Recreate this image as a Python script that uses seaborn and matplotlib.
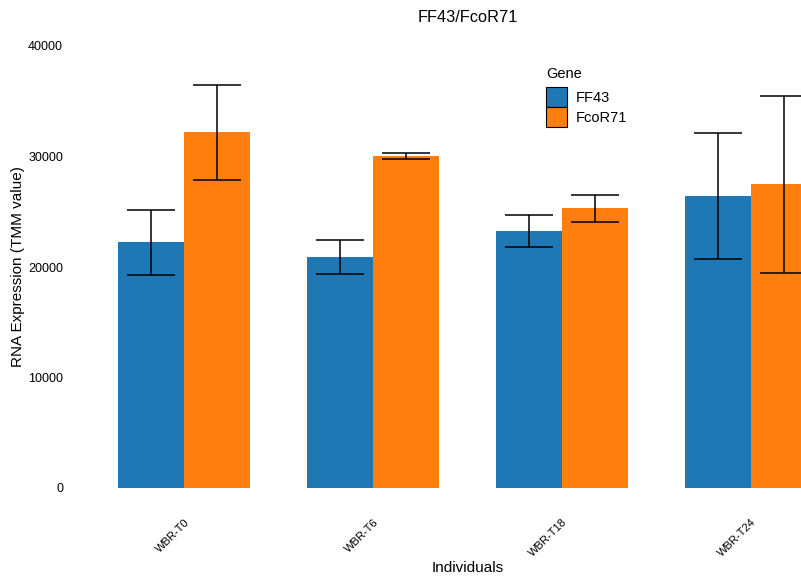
import matplotlib
matplotlib.use("Agg")
import matplotlib.pyplot as plt
from matplotlib.patches import Patch
import seaborn as sns
import pandas as pd

# Mean expression (TMM) and error per individual and gene
individuals = ["WBR-T0", "WBR-T6", "WBR-T18", "WBR-T24"]
genes = ["FF43", "FcoR71"]
ff43_mean = [22250, 20900, 23250, 26400]
ff43_err = [2950, 1550, 1450, 5700]
fcor71_mean = [32200, 30050, 25300, 27500]
fcor71_err = [4300, 250, 1250, 8000]
palette = ["#1f77b4", "#ff7f0e"]

df = pd.DataFrame({
    "Individuals": individuals * 2,
    "Gene": [genes[0]] * 4 + [genes[1]] * 4,
    "Expression": ff43_mean + fcor71_mean,
    "Err": ff43_err + fcor71_err,
})

sns.set_style("white")
plt.rcParams["font.family"] = ["Liberation Sans", "DejaVu Sans"]
plt.rcParams["text.color"] = "black"
plt.rcParams["axes.labelcolor"] = "black"
plt.rcParams["xtick.color"] = "black"
plt.rcParams["ytick.color"] = "black"

fig = plt.figure(figsize=(8.01, 5.80), dpi=100)
W, H = 801, 580
left, right, top, bottom = 89.5, 845.5, 46, 488
ax = fig.add_axes([left / W, 1 - bottom / H, (right - left) / W, (bottom - top) / H])

sns.barplot(data=df, x="Individuals", y="Expression", hue="Gene",
            hue_order=genes, order=individuals, palette=palette,
            width=0.7, errorbar=None, saturation=1, linewidth=0,
            ax=ax, legend=False)

# error bars centred on each drawn bar
bars = [p for p in ax.patches if p.get_height() > 0]
for gi, g in enumerate(genes):
    sub = df[df["Gene"] == g].set_index("Individuals").loc[individuals]
    gbars = bars[gi * len(individuals):(gi + 1) * len(individuals)]
    xs = [b.get_x() + b.get_width() / 2 for b in gbars]
    ax.errorbar(xs, sub["Expression"], yerr=sub["Err"], fmt="none",
                ecolor="black", elinewidth=1.1, capsize=17, capthick=1.1, zorder=5)

ax.set_xlim(-0.5, 3.5)
ax.set_ylim(0, 40000)
ax.set_yticks([0, 10000, 20000, 30000, 40000])
ax.set_yticklabels(["0", "10000", "20000", "30000", "40000"])
for s in ax.spines.values():
    s.set_visible(False)
ax.tick_params(axis="y", length=0, pad=19, labelsize=9)
ax.tick_params(axis="x", length=0, pad=21, labelsize=8)
for lab in ax.get_xticklabels():
    lab.set_rotation(45)
    lab.set_ha("right")
    lab.set_va("top")
    lab.set_rotation_mode("anchor")

ax.set_xlabel("Individuals", fontsize=11)
ax.xaxis.set_label_coords(0.5, (bottom - 561) / (bottom - top))
ax.set_ylabel("RNA Expression (TMM value)", fontsize=11)
ax.yaxis.set_label_coords((25 - left) / (right - left), 0.5)
ax.set_title("FF43/FcoR71", fontsize=11.8, pad=17)

handles = [Patch(facecolor=c, edgecolor="black", linewidth=0.8) for c in palette]
leg = fig.legend(handles, genes, title="Gene", loc="upper left",
                 bbox_to_anchor=(539 / W, 1 - 60 / H), frameon=False,
                 fontsize=10.5, title_fontsize=10.5, handlelength=1.45,
                 handleheight=1.75, labelspacing=0, handletextpad=0.55,
                 borderpad=0, alignment="left")
leg._legend_box.sep = 4

fig.savefig("out.png", dpi=100)
